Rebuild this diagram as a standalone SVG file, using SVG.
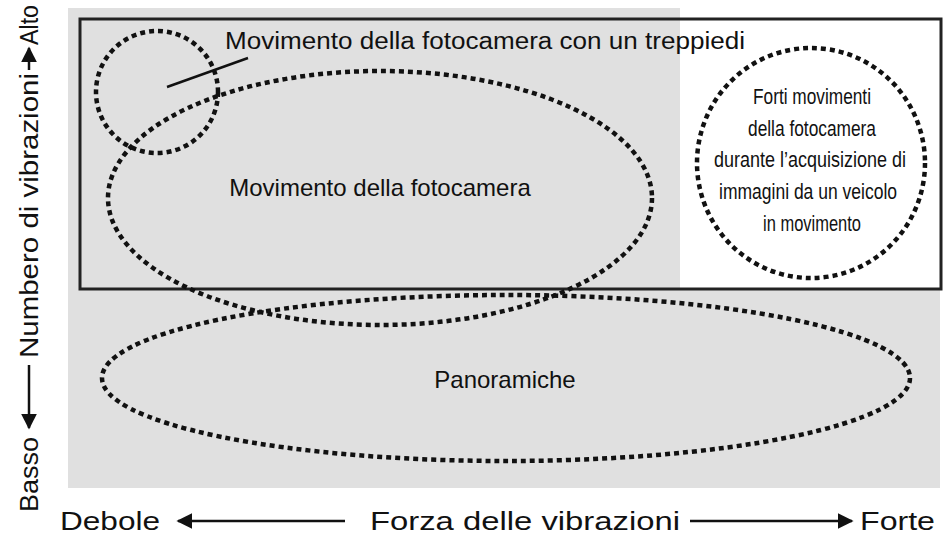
<svg xmlns="http://www.w3.org/2000/svg" width="945" height="537" viewBox="0 0 945 537">
<style>
text{font-family:"Liberation Sans",Arial,sans-serif;fill:#111}
.d{fill:none;stroke:#111;stroke-width:4.5;stroke-dasharray:5 4}
.ax{stroke:#111;stroke-width:2.5;fill:none}
</style>
<defs><marker id="ah" viewBox="0 0 10 10" refX="9" refY="5" markerWidth="9" markerHeight="9" markerUnits="userSpaceOnUse" orient="auto-start-reverse"><path d="M0,0 L10,5 L0,10 Z" fill="#111"/></marker>
<marker id="ah2" viewBox="0 0 10 10" refX="9" refY="5" markerWidth="16" markerHeight="16" markerUnits="userSpaceOnUse" orient="auto-start-reverse"><path d="M0,0 L10,5 L0,10 Z" fill="#111"/></marker></defs>
<rect width="945" height="537" fill="#fff"/>
<path d="M68,8 H680 V290 H940 V488 H68 Z" fill="#e0e0e0"/>
<rect x="80" y="19" width="861" height="270" fill="none" stroke="#222" stroke-width="3"/>
<g id="tripod"><circle class="d" cx="157" cy="92" r="61"/><text x="225" y="49" font-size="23" textLength="520" lengthAdjust="spacingAndGlyphs">Movimento della fotocamera con un treppiedi</text><line x1="167" y1="87" x2="248" y2="58" stroke="#111" stroke-width="2.5"/></g>
<g id="camera"><ellipse class="d" cx="380" cy="198" rx="272" ry="127"/><text x="380" y="196" font-size="24" text-anchor="middle">Movimento della fotocamera</text></g>
<g id="vehicle"><ellipse class="d" cx="811" cy="163" rx="114" ry="115"/>
<g font-size="22" text-anchor="middle">
<text x="812" y="104" textLength="118" lengthAdjust="spacingAndGlyphs">Forti movimenti</text>
<text x="812" y="136" textLength="128" lengthAdjust="spacingAndGlyphs">della fotocamera</text>
<text x="810" y="167" textLength="192" lengthAdjust="spacingAndGlyphs">durante l’acquisizione di</text>
<text x="808" y="199" textLength="178" lengthAdjust="spacingAndGlyphs">immagini da un veicolo</text>
<text x="812" y="231" textLength="98" lengthAdjust="spacingAndGlyphs">in movimento</text></g></g>
<g id="pan"><ellipse class="d" cx="506" cy="378" rx="404" ry="83"/><text x="505" y="388" font-size="24" text-anchor="middle">Panoramiche</text></g>
<g id="axes">
<line class="ax" x1="345" y1="521" x2="178" y2="521" marker-end="url(#ah2)"/>
<line class="ax" x1="690" y1="521" x2="852" y2="521" marker-end="url(#ah2)"/>
<line class="ax" x1="29" y1="365" x2="29" y2="428" marker-end="url(#ah2)"/>
<line class="ax" x1="29" y1="70" x2="29" y2="48" marker-end="url(#ah2)"/>
</g>
<text x="60" y="530" font-size="26" textLength="100" lengthAdjust="spacingAndGlyphs">Debole</text>
<text x="370" y="530" font-size="26" textLength="310" lengthAdjust="spacingAndGlyphs">Forza delle vibrazioni</text>
<text x="860" y="530" font-size="26" textLength="75" lengthAdjust="spacingAndGlyphs">Forte</text>
<g font-size="26" transform="rotate(-90)">
<text x="-512" y="38" textLength="75" lengthAdjust="spacingAndGlyphs">Basso</text>
<text x="-358" y="38" textLength="285" lengthAdjust="spacingAndGlyphs">Numbero di vibrazioni</text>
<text x="-45" y="38" textLength="40" lengthAdjust="spacingAndGlyphs">Alto</text>
</g>
</svg>
